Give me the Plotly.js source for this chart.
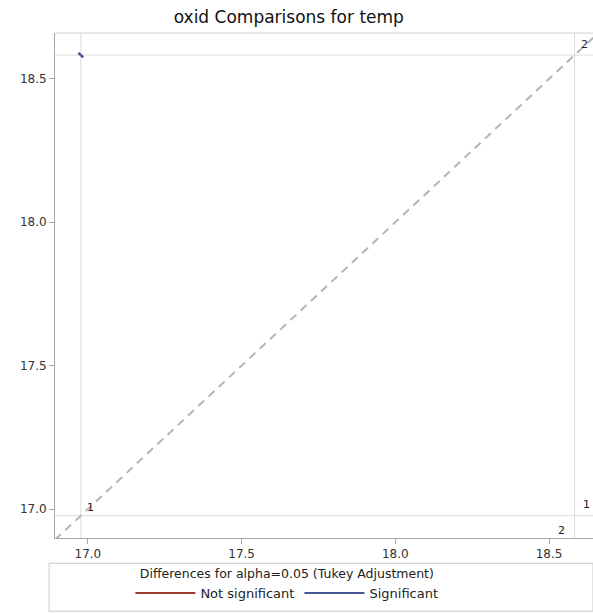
<!DOCTYPE html>
<html>
<head>
<meta charset="utf-8">
<script src="https://cdn.plot.ly/plotly-3.0.1.min.js"></script>
<style>html,body{margin:0;padding:0;background:#fff;}#chart{width:593px;height:613px;}</style>
</head>
<body>
<div id="chart"></div>
<script>
// ---- data ----
const levels = ['1', '2'];
const lsMeans = [16.977, 18.583];        // LS-means of oxid for temp levels 1, 2
const pairFirst = [0];                    // index of level plotted on x
const pairSecond = [1];                   // index of level plotted on y
const ciHalfWidth = [0.008];              // half-length of the difference CI segment (data units)
const significant = [true];
const xRange = [16.893, 18.643];
const yRange = [16.899, 18.66];
const xTicks = [17.0, 17.5, 18.0, 18.5];
const yTicks = [17.0, 17.5, 18.0, 18.5];

const FONT = 'DejaVu Sans, Liberation Sans, Arial, sans-serif';
const SIG = '#445694', NSIG = '#A23A2E';

const traces = [];
// diagonal reference y = x
const dLo = Math.min(xRange[0], yRange[0]), dHi = Math.max(xRange[1], yRange[1]);
traces.push({x: [dLo, dHi], y: [dLo, dHi], mode: 'lines', showlegend: false, hoverinfo: 'skip',
  line: {color: '#b4b4b4', width: 2, dash: '8px,6px'}});
// comparison segments
pairFirst.forEach((a, k) => {
  const cx = lsMeans[a], cy = lsMeans[pairSecond[k]], d = ciHalfWidth[k];
  traces.push({x: [cx - d, cx + d], y: [cy + d, cy - d], mode: 'lines', showlegend: false,
    line: {color: significant[k] ? SIG : NSIG, width: 2.5}});
});
// legend entries
traces.push({x: [null], y: [null], mode: 'lines', name: 'Not significant', line: {color: NSIG, width: 2}});
traces.push({x: [null], y: [null], mode: 'lines', name: 'Significant', line: {color: SIG, width: 2}});

const shapes = [];
lsMeans.forEach(m => {
  shapes.push({type: 'line', xref: 'x', yref: 'paper', x0: m, x1: m, y0: 0, y1: 1, line: {color: '#dcdcdc', width: 1}, layer: 'below'});
  shapes.push({type: 'line', xref: 'paper', yref: 'y', x0: 0, x1: 1, y0: m, y1: m, line: {color: '#dcdcdc', width: 1}, layer: 'below'});
});
// top frame line
shapes.push({type: 'line', xref: 'paper', yref: 'paper', x0: 0, x1: 1, y0: 1, y1: 1, line: {color: '#d0d0d0', width: 1}});
// legend border
shapes.push({type: 'rect', xref: 'paper', yref: 'paper', x0: -0.011, x1: 1.0, y0: -0.145, y1: -0.05, line: {color: '#c8c8c8', width: 1}});

const lf = {family: FONT, size: 11, color: '#222'};
const annotations = [
  {x: lsMeans[1], y: lsMeans[1], text: levels[1], xanchor: 'left', yanchor: 'bottom', xshift: 4, yshift: 2, showarrow: false, font: lf},
  {x: lsMeans[1], y: lsMeans[0], text: levels[0], xanchor: 'left', yanchor: 'bottom', xshift: 6, yshift: 3, showarrow: false, font: lf},
  {x: lsMeans[0], y: lsMeans[0], text: levels[0], xanchor: 'left', yanchor: 'bottom', xshift: 4, yshift: 0, showarrow: false, font: lf},
  {x: lsMeans[1], y: lsMeans[0], text: levels[1], xanchor: 'right', yanchor: 'top', xshift: -8, yshift: -6, showarrow: false, font: lf}
];

const layout = {
  width: 593, height: 613,
  margin: {l: 55, r: 0, t: 33, b: 75},
  paper_bgcolor: '#fff', plot_bgcolor: '#fff',
  font: {family: FONT, size: 12, color: '#222'},
  title: {text: 'oxid Comparisons for temp', font: {family: FONT, size: 17, color: '#111'},
    x: 0.487, xref: 'container', xanchor: 'center', y: 0.973, yref: 'container', yanchor: 'middle'},
  xaxis: {range: xRange, tickvals: xTicks, ticktext: xTicks.map(v => v.toFixed(1)), showgrid: false, zeroline: false,
    showline: true, linecolor: '#a8a8a8', linewidth: 1, ticks: 'outside', ticklen: 5, tickcolor: '#a8a8a8',
    tickfont: {family: FONT, size: 12, color: '#333'}},
  yaxis: {range: yRange, tickvals: yTicks, ticktext: yTicks.map(v => v.toFixed(1)), showgrid: false, zeroline: false,
    showline: true, linecolor: '#a8a8a8', linewidth: 1, ticks: 'outside', ticklen: 5, tickcolor: '#a8a8a8',
    tickfont: {family: FONT, size: 12, color: '#333'}},
  showlegend: true,
  legend: {orientation: 'h', x: 0.431, xanchor: 'center', y: -0.047, yanchor: 'top',
    title: {text: 'Differences for alpha=0.05 (Tukey Adjustment)', side: 'top center', font: {family: FONT, size: 12.5, color: '#222'}},
    font: {family: FONT, size: 13, color: '#222'}, bgcolor: 'rgba(0,0,0,0)', borderwidth: 0, itemwidth: 60, tracegroupgap: 0},
  shapes: shapes,
  annotations: annotations
};

Plotly.newPlot('chart', traces, layout, {staticPlot: true, displayModeBar: false});
</script>
</body>
</html>
